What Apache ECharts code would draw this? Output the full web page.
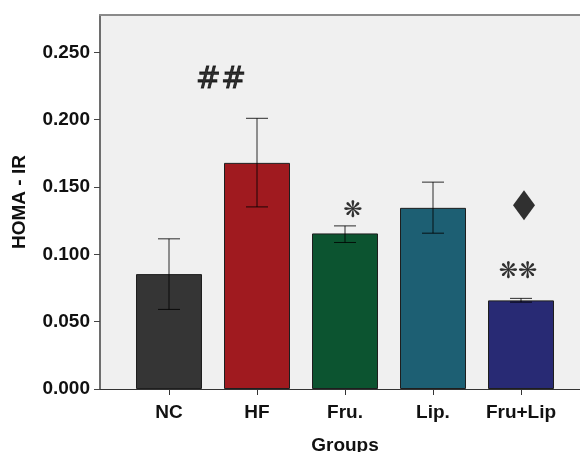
<!DOCTYPE html>
<html>
<head>
<meta charset="utf-8">
<script src="https://cdn.jsdelivr.net/npm/echarts@6/dist/echarts.min.js"></script>
<style>
  html, body { margin: 0; padding: 0; background: #ffffff; }
  #chart { width: 580px; height: 452px; }
</style>
</head>
<body>
<div id="chart"></div>
<script>
// HOMA-IR by group: means with error-bar limits
const groups   = ['NC', 'HF', 'Fru.', 'Lip.', 'Fru+Lip'];
const homaMean = [0.0853, 0.1679, 0.1155, 0.1345, 0.0658];
const errLow   = [0.0591, 0.1352, 0.1088, 0.1157, 0.0645];
const errHigh  = [0.1115, 0.2010, 0.1211, 0.1536, 0.0673];
const yTicks   = [0.000, 0.050, 0.100, 0.150, 0.200, 0.250];
const yMax     = 0.2777;

// significance annotations: group index, height, text
const signGroup = [1, 2, 4];
const signY     = [0.229, 0.132, 0.0868];
const signText  = ['##', '\u274B', '\u274B\u274B'];
// diamond marker above Fru+Lip
const diamondGroup = [4];
const diamondY     = [0.1365];

const barColors = ['#353535', '#a01a1f', '#0c5430', '#1d5f73', '#282a74'];
const signOffsets = [[-36, 0], [8, 0], [-3, 0]];

const axisFont = { fontFamily: 'Liberation Sans', fontWeight: 'bold', fontSize: 19, color: '#111' };

const chart = echarts.init(document.getElementById('chart'), null, { renderer: 'canvas' });

const option = {
  animation: false,
  backgroundColor: '#ffffff',
  grid: [
    // frame: background, value axis, borders
    { left: 100, right: 0, top: 15, bottom: 63, show: true, backgroundColor: '#f0f0f0',
      borderWidth: 0, outerBoundsMode: 'none' },
    // bars sit in the inner band
    { left: 125, right: 15, top: 15, bottom: 63, outerBoundsMode: 'none' }
  ],
  xAxis: [
    { gridIndex: 0, type: 'value', min: 0, max: 1, position: 'bottom',
      axisLine: { show: true, lineStyle: { color: '#333', width: 1 } },
      axisTick: { show: false }, axisLabel: { show: false }, splitLine: { show: false } },
    { gridIndex: 0, type: 'value', min: 0, max: 1, position: 'top',
      axisLine: { show: true, lineStyle: { color: '#8a8a8a', width: 2 } },
      axisTick: { show: false }, axisLabel: { show: false }, splitLine: { show: false } },
    { gridIndex: 1, type: 'category', data: groups, position: 'bottom',
      axisLine: { show: false },
      axisTick: { show: true, alignWithLabel: true, interval: 0, length: 6, lineStyle: { color: '#333' } },
      axisLabel: Object.assign({ margin: 14, interval: 0, hideOverlap: false }, axisFont),
      name: 'Groups', nameLocation: 'middle', nameGap: 47,
      nameTextStyle: axisFont }
  ],
  yAxis: [
    { gridIndex: 0, type: 'value', min: 0, max: yMax,
      axisLine: { show: true, lineStyle: { color: '#6e6e6e', width: 2 } },
      axisTick: { show: true, length: 6, customValues: yTicks, lineStyle: { color: '#444' } },
      axisLabel: Object.assign({ margin: 10, customValues: yTicks,
        formatter: v => v.toFixed(3) }, axisFont),
      splitLine: { show: false },
      name: 'HOMA - IR', nameLocation: 'middle', nameGap: 71, nameRotate: 90,
      nameTextStyle: axisFont },
    { gridIndex: 1, type: 'value', min: 0, max: yMax, show: false }
  ],
  series: [
    {
      type: 'bar', xAxisIndex: 2, yAxisIndex: 1,
      barWidth: '75%',
      data: homaMean.map((v, i) => ({
        value: v,
        itemStyle: { color: barColors[i], borderColor: '#1e1e1e', borderWidth: 1 }
      }))
    },
    {
      type: 'custom', xAxisIndex: 2, yAxisIndex: 1, z: 5,
      data: groups.map((g, i) => [i, errLow[i], errHigh[i]]),
      renderItem: function (params, api) {
        const lo = api.coord([api.value(0), api.value(1)]);
        const hi = api.coord([api.value(0), api.value(2)]);
        const hw = 11;
        const style = { stroke: 'rgba(0,0,0,0.82)', lineWidth: 1 };
        return {
          type: 'group',
          children: [
            { type: 'line', shape: { x1: hi[0], y1: hi[1], x2: lo[0], y2: lo[1] }, style: style },
            { type: 'line', shape: { x1: hi[0] - hw, y1: hi[1], x2: hi[0] + hw, y2: hi[1] }, style: style },
            { type: 'line', shape: { x1: lo[0] - hw, y1: lo[1], x2: lo[0] + hw, y2: lo[1] }, style: style }
          ]
        };
      }
    },
    {
      type: 'scatter', xAxisIndex: 2, yAxisIndex: 1, z: 6,
      symbolSize: 1, itemStyle: { color: 'rgba(0,0,0,0)' },
      data: signGroup.map((g, i) => ({
        value: [g, signY[i]],
        label: {
          show: true, position: 'inside', formatter: signText[i],
          offset: signOffsets[i],
          fontFamily: 'DejaVu Sans',
          fontSize: i === 0 ? 30 : 23, color: '#000',
          textBorderColor: '#000', textBorderWidth: i === 0 ? 0.8 : 0
        }
      }))
    },
    {
      type: 'scatter', xAxisIndex: 2, yAxisIndex: 1, z: 6,
      symbol: 'diamond', symbolSize: [22, 30], symbolOffset: [3, 0],
      itemStyle: { color: '#000' },
      data: diamondGroup.map((g, i) => [g, diamondY[i]])
    }
  ]
};

chart.setOption(option);
</script>
</body>
</html>
